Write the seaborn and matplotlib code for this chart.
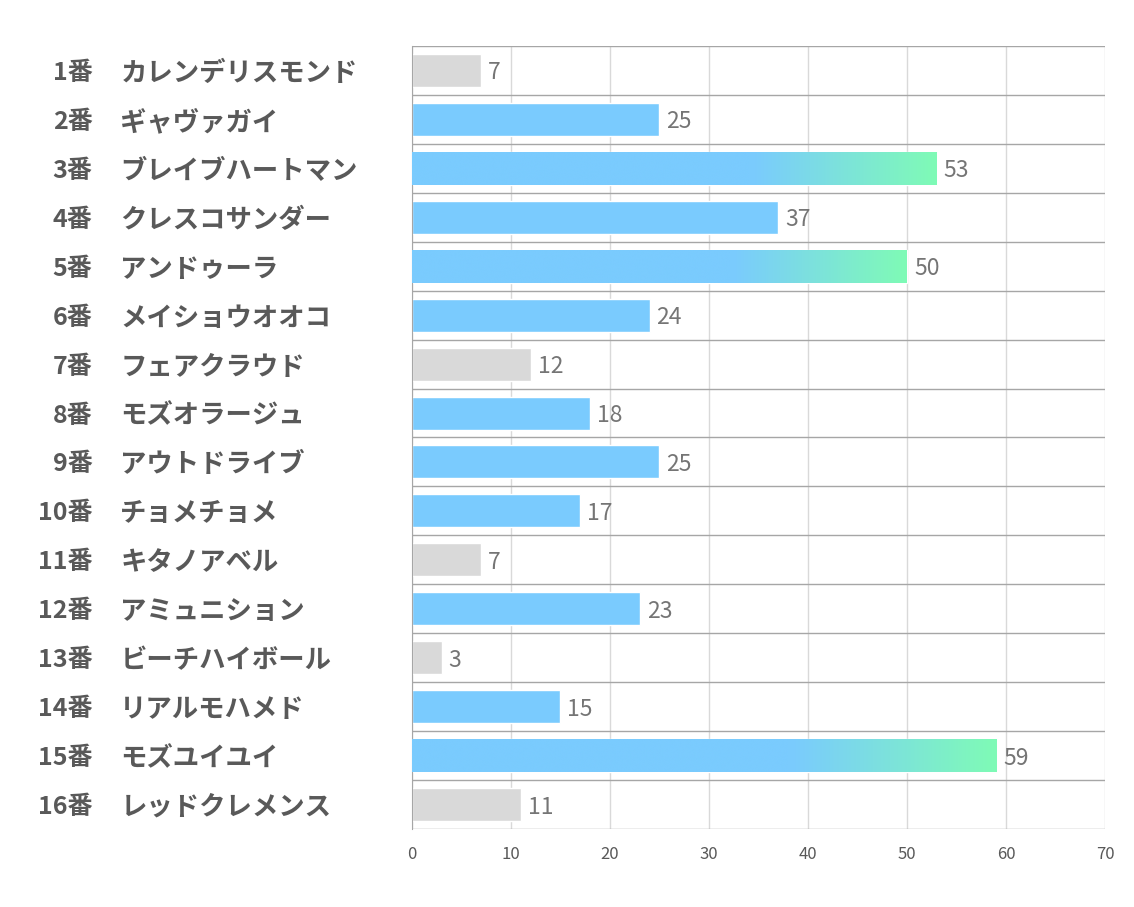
import numpy as np
import pandas as pd
import seaborn as sns
import matplotlib.pyplot as plt
from matplotlib.colors import LinearSegmentedColormap
from matplotlib.transforms import blended_transform_factory

'''chart data'''
numbers = ["1番", "2番", "3番", "4番", "5番", "6番", "7番", "8番",
           "9番", "10番", "11番", "12番", "13番", "14番", "15番", "16番"]
names = ["カレンデリスモンド", "ギャヴァガイ", "ブレイブハートマン", "クレスコサンダー",
         "アンドゥーラ", "メイショウオオコ", "フェアクラウド", "モズオラージュ",
         "アウトドライブ", "チョメチョメ", "キタノアベル", "アミュニション",
         "ビーチハイボール", "リアルモハメド", "モズユイユイ", "レッドクレメンス"]
values = [7, 25, 53, 37, 50, 24, 12, 18, 25, 17, 7, 23, 3, 15, 59, 11]
groups = ["low", "mid", "top", "mid", "top", "mid", "low", "mid",
          "mid", "mid", "low", "mid", "low", "mid", "top", "low"]
x_ticks = [0, 10, 20, 30, 40, 50, 60, 70]

df = pd.DataFrame({"name": names, "value": values, "group": groups})

BLUE = "#7ACBFE"
GRAY = "#D9D9D9"
GREEN = "#7FFBB6"
palette = {"low": GRAY, "mid": BLUE, "top": BLUE}

sns.set_style("white")
plt.rcParams['font.family'] = ['Noto Sans CJK JP', 'DejaVu Sans']

fig = plt.figure(figsize=(11.34, 9.07), dpi=100)
ax = fig.add_axes([0.3633, 0.086, 0.6111, 0.8633])

sns.barplot(data=df, y="name", x="value", hue="group", palette=palette,
            dodge=False, legend=False, width=0.675, orient="h", ax=ax,
            saturation=1, zorder=2)

# gradient for the top bars: solid blue until ~65% of length, then fade to green
cmap = LinearSegmentedColormap.from_list("bg", [(0, BLUE), (0.65, BLUE), (1, GREEN)])
grad = np.linspace(0, 1, 256).reshape(1, -1)
for patch in ax.patches:
    w = patch.get_width()
    y0 = patch.get_y()
    h = patch.get_height()
    if w <= 0:
        continue
    idx = int(round(y0 + h / 2))
    if 0 <= idx < len(groups) and groups[idx] == "top":
        im = ax.imshow(grad, cmap=cmap, aspect="auto", zorder=3,
                       extent=[patch.get_x(), patch.get_x() + w, y0 + h, y0],
                       interpolation="bicubic")
        im.set_clip_path(patch)

for i, v in enumerate(values):
    ax.text(v + 0.7, i, str(v), va="center_baseline", ha="left", fontsize=16.5,
            color="#757575", zorder=4)

ax.set_xlim(0, 70)
ax.set_ylim(15.5, -0.5)
ax.set_xticks(x_ticks)
ax.set_xticklabels([str(t) for t in x_ticks], fontsize=12, color="#595959")
ax.set_yticks(range(len(names)))
ax.set_yticklabels(names, fontsize=19, fontweight="bold", color="#595959", ha="left")
ax.tick_params(axis="y", length=0, pad=210)
ax.tick_params(axis="x", length=0, pad=12)
ax.set_yticks(np.arange(-0.5, 16, 1), minor=True)
ax.tick_params(axis="y", which="minor", length=0)
ax.grid(axis="x", which="major", color="#D9D9D9", linewidth=1, zorder=0)
ax.grid(axis="y", which="minor", color="#A6A6A6", linewidth=1, zorder=1)
ax.set_axisbelow(True)
ax.set_xlabel("")
ax.set_ylabel("")
for side in ["top", "right", "bottom"]:
    ax.spines[side].set_visible(False)
ax.spines["left"].set_color("#A6A6A6")

trans = blended_transform_factory(fig.transFigure, ax.transData)
for i, n in enumerate(numbers):
    ax.text(0.0815, i, n, transform=trans, ha="right", va="center_baseline",
            fontsize=18, fontweight="bold", color="#595959")

plt.savefig("out.png", format="png", dpi=100)
